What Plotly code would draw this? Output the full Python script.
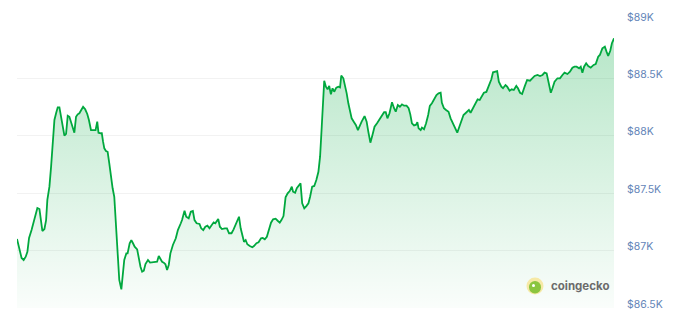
import plotly.graph_objects as go

# minutes since start of the 24h window
minutes = [2, 7, 13, 18, 23, 27, 31, 37, 42, 48, 51, 56, 60, 63, 68, 72, 75, 80, 84, 88,
           92, 96, 100, 104, 108, 112, 116, 120, 124, 128, 132, 136, 140, 144, 148, 152, 156, 161, 166, 171,
           175, 180, 185, 191, 195, 198, 203, 206, 209, 212, 216, 220, 224, 228, 232, 236, 240, 244, 248, 253,
           256, 260, 265, 268, 273, 277, 281, 285, 291, 294, 299, 303, 307, 311, 317, 322, 328, 333, 339, 343,
           347, 351, 355, 359, 363, 367, 371, 377, 384, 389, 396, 399, 405, 409, 415, 420, 425, 429, 434, 441,
           445, 450, 455, 460, 465, 470, 475, 479, 486, 490, 495, 502, 507, 512, 518, 523, 527, 532, 536, 540,
           544, 548, 552, 556, 562, 568, 572, 578, 583, 589, 593, 598, 603, 608, 613, 618, 624, 629, 634, 638,
           643, 648, 653, 658, 663, 666, 671, 675, 680, 684, 688, 693, 698, 703, 707, 712, 717, 722, 727, 731,
           735, 741, 745, 749, 753, 757, 761, 765, 770, 775, 779, 782, 787, 791, 795, 799, 803, 807, 812, 817,
           822, 827, 831, 838, 843, 847, 852, 857, 862, 868, 873, 880, 885, 889, 893, 898, 904, 909, 913, 918,
           923, 928, 933, 939, 944, 948, 952, 957, 962, 965, 968, 973, 976, 981, 986, 991, 995, 1000, 1006, 1011,
           1016, 1021, 1024, 1029, 1034, 1040, 1045, 1050, 1055, 1061, 1066, 1071, 1076, 1082, 1089, 1093, 1099, 1105, 1110, 1115,
           1120, 1125, 1131, 1137, 1143, 1147, 1153, 1157, 1161, 1167, 1171, 1177, 1181, 1187, 1192, 1197, 1203, 1207, 1212, 1217,
           1223, 1229, 1236, 1241, 1247, 1254, 1260, 1266, 1271, 1276, 1281, 1286, 1290, 1295, 1302, 1308, 1314, 1319, 1326, 1332,
           1338, 1343, 1348, 1354, 1358, 1362, 1366, 1371, 1376, 1382, 1389, 1394, 1400, 1404, 1410, 1416, 1420, 1424, 1429, 1433,
           1438]

prices = [87101, 87034, 86936, 86918, 86947, 86990, 87110, 87179, 87252, 87327, 87371, 87362, 87266, 87171, 87188, 87266, 87441, 87557, 87731, 87905,
          88138, 88196, 88248, 88248, 88166, 88079, 88001, 88016, 88175, 88166, 88123, 88065, 88027, 88166, 88187, 88196, 88225, 88253, 88231, 88190,
          88138, 88050, 88050, 88050, 88123, 88027, 88022, 88022, 87949, 87891, 87868, 87861, 87760, 87644, 87543, 87469, 87238, 86947, 86744, 86663,
          86773, 86918, 86976, 86976, 87064, 87092, 87064, 87034, 87011, 86947, 86860, 86816, 86825, 86883, 86918, 86895, 86898, 86898, 86903, 86953,
          86933, 86903, 86895, 86881, 86831, 86875, 86976, 87049, 87107, 87179, 87238, 87266, 87348, 87295, 87281, 87339, 87345, 87266, 87238, 87232,
          87194, 87179, 87208, 87217, 87194, 87223, 87246, 87238, 87275, 87208, 87188, 87194, 87194, 87151, 87151, 87185, 87223, 87260, 87295, 87194,
          87121, 87077, 87092, 87055, 87040, 87029, 87040, 87064, 87072, 87107, 87110, 87098, 87121, 87179, 87243, 87273, 87278, 87260, 87243, 87266,
          87301, 87464, 87499, 87519, 87557, 87513, 87504, 87543, 87571, 87586, 87412, 87368, 87388, 87412, 87469, 87557, 87563, 87615, 87687, 87818,
          88079, 88480, 88428, 88405, 88434, 88361, 88414, 88384, 88419, 88428, 88422, 88524, 88501, 88442, 88370, 88283, 88225, 88152, 88123, 88094,
          88050, 88094, 88123, 88172, 88123, 88036, 87940, 88007, 88079, 88109, 88138, 88181, 88205, 88205, 88152, 88196, 88292, 88240, 88210, 88268,
          88253, 88274, 88262, 88262, 88240, 88187, 88109, 88091, 88097, 88118, 88065, 88050, 88071, 88057, 88109, 88181, 88260, 88283, 88318, 88355,
          88370, 88375, 88288, 88240, 88225, 88210, 88152, 88109, 88065, 88027, 88079, 88123, 88181, 88201, 88225, 88201, 88240, 88277, 88318, 88312,
          88347, 88375, 88382, 88442, 88492, 88553, 88558, 88564, 88471, 88428, 88414, 88442, 88428, 88393, 88405, 88399, 88434, 88414, 88375, 88364,
          88428, 88486, 88480, 88501, 88521, 88530, 88521, 88530, 88550, 88544, 88457, 88375, 88414, 88471, 88501, 88501, 88530, 88550, 88538, 88558,
          88593, 88602, 88602, 88588, 88602, 88550, 88602, 88632, 88608, 88593, 88617, 88625, 88689, 88704, 88762, 88776, 88733, 88695, 88741, 88806,
          88849]

tick_values = [86500, 87000, 87500, 88000, 88500, 89000]
tick_labels = ["$86.5K", "$87K", "$87.5K", "$88K", "$88.5K", "$89K"]

LINE = "#00a83e"

fig = go.Figure()
fig.add_trace(go.Scatter(
    x=minutes, y=prices, mode="lines",
    line=dict(color=LINE, width=1.8),
    fill="tozeroy",
    fillgradient=dict(
        type="vertical",
        start=86500, stop=89000,
        colorscale=[[0, "rgba(0,168,62,0.02)"], [1, "rgba(0,168,62,0.30)"]],
    ),
    hoverinfo="skip",
))

W, H = 676, 328
ml, mr, mt, mb = 17, 62, 21, 20
pw, ph = W - ml - mr, H - mt - mb

def px(x):
    return (x - ml) / pw

def py(y):
    return (H - mb - y) / ph

fig.update_layout(
    width=W, height=H,
    margin=dict(l=ml, r=mr, t=mt, b=mb),
    paper_bgcolor="white", plot_bgcolor="white",
    showlegend=False,
    xaxis=dict(range=[minutes[0], minutes[-1]], visible=False, showgrid=False, zeroline=False),
    yaxis=dict(
        range=[86500, 89000], side="right",
        tickvals=tick_values, ticktext=tick_labels,
        showgrid=True, gridcolor="#f2f2f2", gridwidth=1,
        zeroline=False, showline=False,
        ticks="", ticklabelstandoff=12, ticklabelshift=-4,
        tickfont=dict(family="Inter, Roboto, sans-serif", size=10.5, color="#6485b8"),
    ),
    shapes=[
        dict(type="circle", xref="paper", yref="paper",
             x0=px(526.5), x1=px(543.5), y0=py(294.5), y1=py(277.5),
             fillcolor="#f6e9a6", line=dict(width=0)),
        dict(type="circle", xref="paper", yref="paper",
             x0=px(529), x1=px(541), y0=py(293.5), y1=py(281),
             fillcolor="#8bc53f", line=dict(width=0)),
        dict(type="circle", xref="paper", yref="paper",
             x0=px(532), x1=px(535), y0=py(287), y1=py(284),
             fillcolor="white", line=dict(width=0)),
    ],
    annotations=[
        dict(text="<b>coingecko</b>", xref="paper", yref="paper",
             x=px(549), y=py(286), xanchor="left", yanchor="middle",
             showarrow=False,
             font=dict(family="Inter, Roboto, sans-serif", size=11.5, color="#6b6b6b")),
    ],
)

fig.write_html("out.html")
